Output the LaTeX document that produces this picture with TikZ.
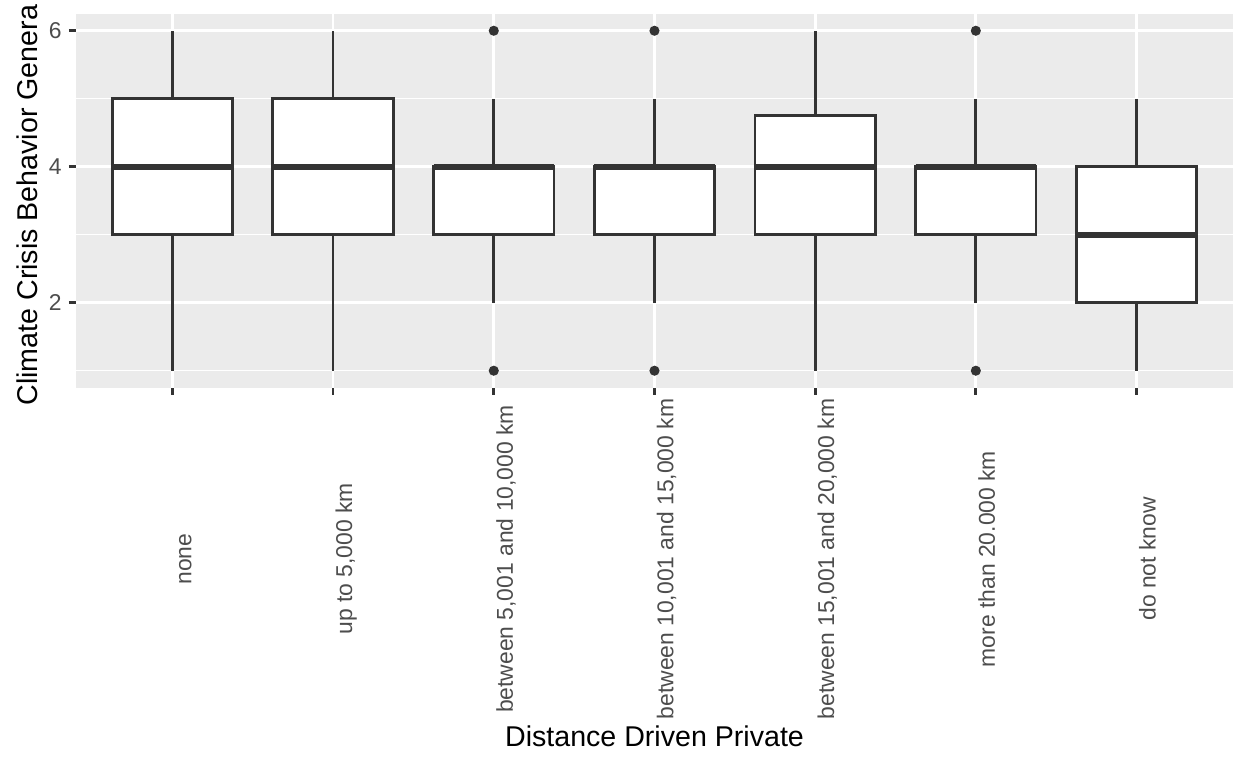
\documentclass[tikz,border=0pt]{standalone}
\usepackage{fontspec}
\setmainfont{Liberation Sans}
\definecolor{panelbg}{HTML}{EBEBEB}
\definecolor{gtwenty}{HTML}{333333}
\definecolor{gthirty}{HTML}{4D4D4D}
\tikzset{
  gridmajor/.style={white, line width=1.07pt},
  gridminor/.style={white, line width=0.53pt},
  boxline/.style={draw=gtwenty, fill=white, line width=1.07pt},
  whisk/.style={draw=gtwenty, line width=1.07pt},
  medline/.style={draw=gtwenty, line width=2.13pt},
  tickmark/.style={draw=gtwenty, line width=1.07pt},
  ticklabel/.style={text=gthirty, font=\fontsize{8.8pt}{10pt}\selectfont, inner sep=0pt},
  axtitle/.style={text=black, font=\fontsize{11pt}{13pt}\selectfont, inner sep=0pt},
}
\begin{document}
\begin{tikzpicture}[x=0.384615pt, y=-0.384615pt]
\useasboundingbox (0,0) rectangle (1248,768);
\clip (0,0) rectangle (1248,768);
\fill[white] (0,0) rectangle (1248,768);
% panel
\fill[panelbg] (76,14) rectangle (1233,388);
\begin{scope}[shift={(11.73,438.7)}, x=61.8pt, y=26.15pt]
  % grid
  \foreach \v in {1,3,5} \draw[gridminor] (0.4,\v) -- (7.6,\v);
  \foreach \v in {2,4,6} \draw[gridmajor] (0.4,\v) -- (7.6,\v);
  \foreach \i in {1,...,7} \draw[gridmajor] (\i,0.75) -- (\i,6.25);
  % boxes: i, lower whisker, q1, median, q3, upper whisker
  \foreach \i/\lo/\qa/\md/\qb/\up in {1/1/3/4/5/6, 2/1/3/4/5/6, 3/2/3/4/4/5, 4/2/3/4/4/5, 5/1/3/4/4.75/6, 6/2/3/4/4/5, 7/1/2/3/4/5}{
    \draw[whisk] (\i,\qb) -- (\i,\up);
    \draw[whisk] (\i,\qa) -- (\i,\lo);
    \draw[boxline] (\i-0.375,\qa) rectangle (\i+0.375,\qb);
    \draw[medline] (\i-0.375,\md) -- (\i+0.375,\md);
  }
  % outliers
  \foreach \i/\v in {3/6, 3/1, 4/6, 4/1, 6/6, 6/1}
    \fill[gtwenty] (\i,\v) circle[radius=1.95pt];
\end{scope}
% y ticks and labels
\foreach \v/\yy in {6/30.7, 4/166.7, 2/302.7}{
  \draw[tickmark] (68.8,\yy) -- (76,\yy);
  \node[ticklabel, anchor=east] (yl\v) at (62,\yy) {\v};
}
% x ticks and labels
\foreach \i/\lab in {1/none, 2/up to 5{,}000 km, 3/between 5{,}001 and 10{,}000 km, 4/between 10{,}001 and 15{,}000 km, 5/between 15{,}001 and 20{,}000 km, 6/more than 20.000 km, 7/do not know}{
  \pgfmathsetmacro{\xx}{76+(\i-0.4)*160.68}
  \draw[tickmark] (\xx,388) -- (\xx,395.2);
  \node[ticklabel, rotate=90, anchor=base] (xl\i) at (\xx+19,559) {\lab};
}
% axis titles
\node[axtitle, anchor=base] (xtitle) at (654.5,746) {Distance Driven Private};
\node[axtitle, rotate=90, anchor=base west] (ytitle) at (37,406) {Climate Crisis Behavior Genera};
\end{tikzpicture}
\end{document}
